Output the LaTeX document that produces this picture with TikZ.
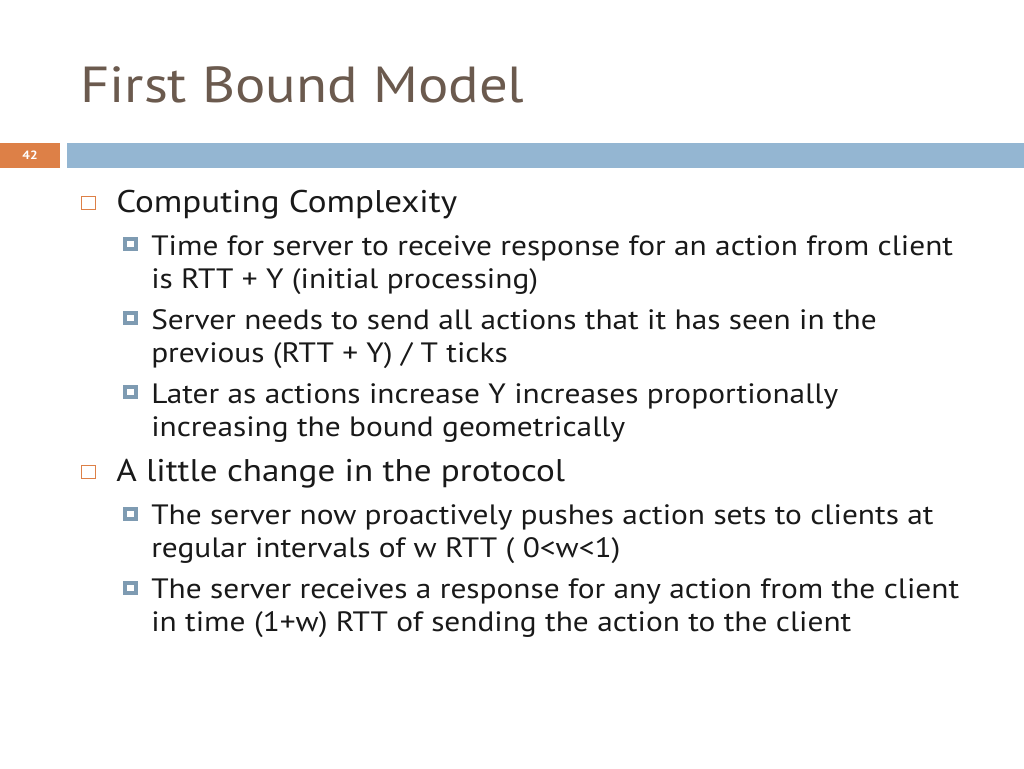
\documentclass[tikz,border=0pt]{standalone}
\usepackage{fontspec}
\setmainfont{PT Sans}[FakeStretch=1.12]
\begin{document}
\begin{tikzpicture}[x=0.75pt,y=-0.75pt,
 t1/.style={anchor=base west,inner sep=0,font=\fontsize{23.5}{26}\selectfont,text=black!90},
 t2/.style={anchor=base west,inner sep=0,font=\fontsize{21}{23}\selectfont,text=black!90}]
\definecolor{bluebar}{HTML}{94B6D2}
\definecolor{titlec}{HTML}{6B5A4E}
\definecolor{orng}{HTML}{DD8047}
\useasboundingbox (0,0) rectangle (1024,768);
\node[anchor=base west,inner sep=0,font=\fontsize{38}{44}\selectfont,text=titlec] (title) at (80,102) {First Bound Model};
\fill[orng] (0,143) rectangle (60,168);
\node[text=white,font=\fontsize{9}{10}\selectfont\bfseries] (num) at (30,155.5) {42};
\fill[bluebar] (67,143) rectangle (1024,168);
\foreach \y in {203,472} {\draw[draw=orng,line width=0.9pt] (81.5,\y-6.5) rectangle (95.5,\y+6.5);}
\foreach \y in {244,318,392,514,588} {\fill[bluebar!85!black] (123,\y-7) rectangle (138,\y+7); \fill[white] (127,\y-3) rectangle (134,\y+3);}
\node[t1] (a) at (116,212) {Computing Complexity};
\node[t2] (a1) at (151,255) {Time for server to receive response for an action from client};
\node[t2] (a1b) at (151,288) {is RTT + Y (initial processing)};
\node[t2] (a2) at (151,329) {Server needs to send all actions that it has seen in the};
\node[t2] (a2b) at (151,362) {previous (RTT + Y) / T ticks};
\node[t2] (a3) at (151,403) {Later as actions increase Y increases proportionally};
\node[t2] (a3b) at (151,436) {increasing the bound geometrically};
\node[t1] (b) at (116,481) {A little change in the protocol};
\node[t2] (b1) at (151,524) {The server now proactively pushes action sets to clients at};
\node[t2] (b1b) at (151,557) {regular intervals of w RTT ( 0<w<1)};
\node[t2] (b2) at (151,598) {The server receives a response for any action from the client};
\node[t2] (b2b) at (151,631) {in time (1+w) RTT of sending the action to the client};
\end{tikzpicture}
\end{document}
